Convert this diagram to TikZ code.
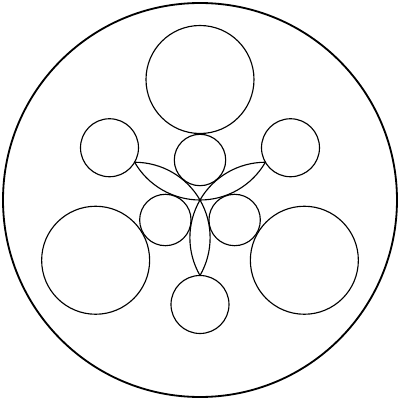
\documentclass[tikz,border=0pt]{standalone}
\begin{document}
\begin{tikzpicture}[x=0.25mm,y=0.25mm,line width=0.8pt]
\pgfmathsetmacro{\L}{75.5}
\useasboundingbox(-200,-200) rectangle (200,200);
\draw[line width=1.3pt](0,0) circle (197);
%big circles
\draw(90:120.5) circle (54);
\draw(210:120.5) circle (54);
\draw(330:120.5) circle (54);
%middle circles
\draw(150:104.5) circle (29);
\draw(30:104.5) circle (29);
\draw(270:104.5) circle (29);
%small circles
\draw(90:40) circle (25.7);
\draw(210:40) circle (25.7);
\draw(330:40) circle (25.7);
%lenses
\coordinate(O) at (0,0);
\draw(O) arc[start angle=270,end angle=210,radius=\L];
\draw(O) arc[start angle=30,end angle=90,radius=\L];
\draw(O) arc[start angle=150,end angle=90,radius=\L];
\draw(O) arc[start angle=-90,end angle=-30,radius=\L];
\draw(O) arc[start angle=30,end angle=-30,radius=\L];
\draw(O) arc[start angle=150,end angle=210,radius=\L];
\end{tikzpicture}
\end{document}
